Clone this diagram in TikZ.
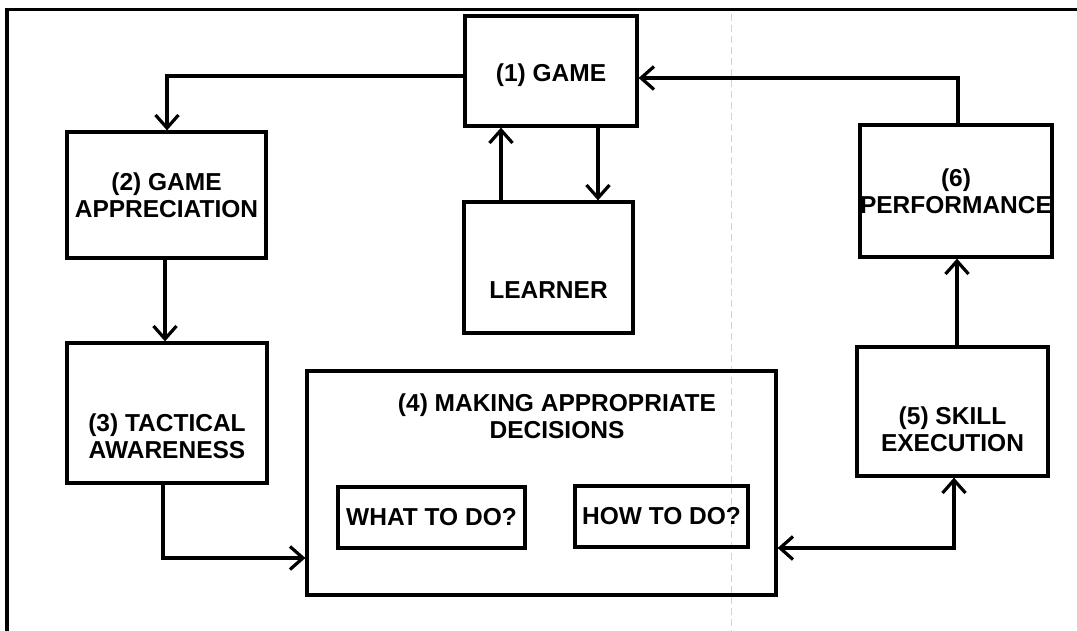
\documentclass[tikz,border=0pt]{standalone}
\usepackage{fontspec}
\setmainfont{Liberation Sans}
\usetikzlibrary{arrows.meta,calc}
\begin{document}
\begin{tikzpicture}[x=1pt,y=-1pt,
  box/.style={draw,line width=3.2pt,rectangle,inner sep=0pt,font=\fontsize{24.5}{27}\selectfont\bfseries,align=center},
  lbl/.style={inner sep=0pt,font=\fontsize{24.5}{27}\selectfont\bfseries,align=center},
  arr/.style={line width=3.2pt,-{Straight Barb[length=13pt,width=23pt]}},
  darr/.style={line width=3.2pt,{Straight Barb[length=13pt,width=23pt]}-{Straight Barb[length=13pt,width=23pt]}},
  frame/.style={line width=3.5pt},
  fold/.style={gray!35,line width=1pt,dash pattern=on 7pt off 4pt}]
\useasboundingbox (0,0) rectangle (1077,631);
% outer frame (cut at right and bottom)
\coordinate (ftl) at (7,9.5);
\coordinate (ftr) at (1077,9.5);
\coordinate (fbl) at (7,631);
\draw[frame] (fbl) -- (ftl) -- (ftr);
% faint fold line of the scan
\coordinate (fold1) at (731,14);
\coordinate (fold2) at (731,631);
\draw[fold] (fold1) -- (fold2);
% boxes
\node[box,minimum width=172pt,minimum height=110pt] (game) at (551,71) {};
\node[lbl] (gameT) at (551,75) {(1) GAME};
\node[box,minimum width=169pt,minimum height=131pt] (learner) at (548.5,267.5) {};
\node[lbl] (learnerT) at (548.5,290) {LEARNER};
\node[box,minimum width=199pt,minimum height=126pt] (app) at (166.5,195) {(2) GAME\\APPRECIATION};
\node[box,minimum width=200pt,minimum height=140pt] (tac) at (167,413) {};
\node[lbl] (tacT) at (167,436) {(3) TACTICAL\\AWARENESS};
\node[box,minimum width=469pt,minimum height=224pt] (mak) at (541.5,483) {};
\node[lbl] (makT) at (557,416.5) {(4) MAKING APPROPRIATE\\DECISIONS};
\node[box,minimum width=187pt,minimum height=61pt] (what) at (431.5,517.5) {WHAT TO DO?};
\node[box,minimum width=173pt,minimum height=61pt] (how) at (661.5,516.5) {HOW TO DO?};
\node[box,minimum width=191pt,minimum height=129pt] (skill) at (952.5,411.5) {};
\node[lbl] (skillT) at (952.5,429) {(5) SKILL\\EXECUTION};
\node[box,minimum width=192pt,minimum height=132pt] (perf) at (956,191) {(6)\\PERFORMANCE};
% connectors
\draw[arr] (game.west |- 0,76) -| (app.north -| 167,0);
\draw[arr] (perf.north -| 958,0) |- (game.east |- 0,78);
\draw[arr] (learner.north -| 501,0) -- (game.south -| 501,0);
\draw[arr] (game.south -| 598,0) -- (learner.north -| 598,0);
\draw[arr] (app.south -| 165,0) -- (tac.north -| 165,0);
\draw[arr] (tac.south -| 163,0) |- (mak.west |- 0,558);
\draw[darr] (mak.east |- 0,548) -| (skill.south -| 954,0);
\draw[arr] (skill.north -| 957,0) -- (perf.south -| 957,0);
\end{tikzpicture}
\end{document}
